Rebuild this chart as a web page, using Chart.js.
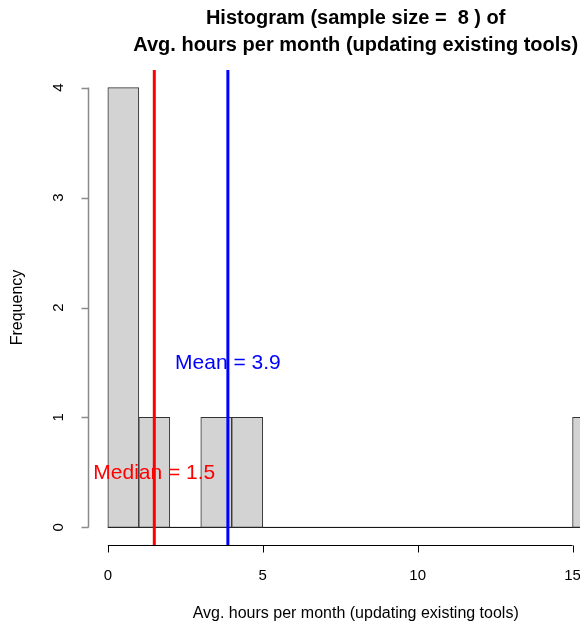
<!DOCTYPE html>
<html>
<head>
<meta charset="utf-8">
<script src="https://cdn.jsdelivr.net/npm/chart.js@4"></script>
<style>
  html, body { margin: 0; padding: 0; background: #fff; }
  #wrap { width: 580px; height: 625px; }
</style>
</head>
<body>
<div id="wrap"><canvas id="histChart" width="580" height="625"></canvas></div>
<script>
// histogram data (bins of width 1)
const binBreaks = [0, 1, 2, 3, 4, 5, 6, 7, 8, 9, 10, 11, 12, 13, 14, 15, 16];
const binCounts = [4, 1, 0, 1, 1, 0, 0, 0, 0, 0, 0, 0, 0, 0, 0, 1];
const xTickValues = [0, 5, 10, 15];
const yTickValues = [0, 1, 2, 3, 4];
const meanValue = 3.875;
const medianValue = 1.5;
const sampleSize = 8;

const titleLines = ['Histogram (sample size =  ' + sampleSize + ' ) of', 'Avg. hours per month (updating existing tools)'];
const xTitle = 'Avg. hours per month (updating existing tools)';
const yTitle = 'Frequency';

const FONT = '"Liberation Sans", Arial, sans-serif';

// R-style 4% axis expansion
const xMinR = -0.64, xMaxR = 16.64;

const barData = [];
binCounts.forEach((c, i) => {
    if (c > 0) barData.push({ x: (binBreaks[i] + binBreaks[i + 1]) / 2, y: c });
});

const rAxesPlugin = {
    id: 'rAxes',
    afterDatasetsDraw(chart) {
        const ctx = chart.ctx;
        const xs = chart.scales.x, ys = chart.scales.y;
        const area = chart.chartArea;

        // mean / median lines
        ctx.save();
        ctx.lineWidth = 3;
        [[medianValue, '#ff0000'], [meanValue, '#0000ff']].forEach(([v, col]) => {
            const px = xs.getPixelForValue(v);
            ctx.strokeStyle = col;
            ctx.beginPath();
            ctx.moveTo(px, area.top);
            ctx.lineTo(px, area.bottom);
            ctx.stroke();
        });

        // labels
        ctx.font = '21px ' + FONT;
        ctx.textAlign = 'center';
        ctx.textBaseline = 'middle';
        ctx.fillStyle = '#ff0000';
        ctx.fillText('Median = ' + medianValue.toFixed(1), xs.getPixelForValue(medianValue), ys.getPixelForValue(0.5) + 1);
        ctx.fillStyle = '#0000ff';
        ctx.fillText('Mean = ' + meanValue.toFixed(1), xs.getPixelForValue(meanValue), ys.getPixelForValue(1.5) + 1);

        // x axis
        ctx.strokeStyle = '#000';
        ctx.lineWidth = 1;
        const axY = Math.round(area.bottom) + 0.5;
        const x0 = xs.getPixelForValue(xTickValues[0]);
        const x1 = xs.getPixelForValue(xTickValues[xTickValues.length - 1]);
        ctx.beginPath();
        ctx.moveTo(x0, axY);
        ctx.lineTo(x1, axY);
        xTickValues.forEach(v => {
            const px = Math.round(xs.getPixelForValue(v)) + 0.5;
            ctx.moveTo(px, axY);
            ctx.lineTo(px, axY + 7);
        });
        ctx.stroke();
        ctx.fillStyle = '#000';
        ctx.font = '15px ' + FONT;
        xTickValues.forEach(v => {
            ctx.fillText(String(v), xs.getPixelForValue(v), axY + 30);
        });

        // y axis
        ctx.strokeStyle = '#8a8a8a';
        ctx.lineWidth = 1.5;
        const axX = Math.round(area.left) + 0.5;
        const y0 = ys.getPixelForValue(yTickValues[0]);
        const y1 = ys.getPixelForValue(yTickValues[yTickValues.length - 1]);
        ctx.beginPath();
        ctx.moveTo(axX, y0);
        ctx.lineTo(axX, y1);
        yTickValues.forEach(v => {
            const py = Math.round(ys.getPixelForValue(v)) + 0.5;
            ctx.moveTo(axX, py);
            ctx.lineTo(axX - 7, py);
        });
        ctx.stroke();
        yTickValues.forEach(v => {
            ctx.save();
            ctx.translate(axX - 30, ys.getPixelForValue(v));
            ctx.rotate(-Math.PI / 2);
            ctx.fillText(String(v), 0, 0);
            ctx.restore();
        });

        // axis titles
        ctx.font = '16px ' + FONT;
        ctx.fillText(xTitle, (xs.getPixelForValue(xMinR) + xs.getPixelForValue(xMaxR)) / 2, axY + 68);
        ctx.save();
        ctx.translate(18, (area.top + area.bottom) / 2);
        ctx.rotate(-Math.PI / 2);
        ctx.fillText(yTitle, 0, 0);
        ctx.restore();

        // main title
        ctx.font = 'bold 20px ' + FONT;
        const cx = (xs.getPixelForValue(xMinR) + xs.getPixelForValue(xMaxR)) / 2;
        ctx.fillText(titleLines[0], cx, 18);
        ctx.fillText(titleLines[1], cx, 45);
        ctx.restore();
    }
};

new Chart(document.getElementById('histChart'), {
    type: 'bar',
    data: {
        datasets: [
            {
                type: 'line',
                data: [{ x: binBreaks[0], y: 0 }, { x: binBreaks[binBreaks.length - 1], y: 0 }],
                borderColor: '#000',
                borderWidth: 1,
                pointRadius: 0,
                order: 2
            },
            {
                data: barData,
                backgroundColor: '#d3d3d3',
                borderColor: '#333',
                borderWidth: 1,
                borderSkipped: false,
                barPercentage: 1,
                categoryPercentage: 1,
                order: 1
            }
        ]
    },
    options: {
        responsive: false,
        animation: false,
        events: [],
        layout: { padding: { left: 88, right: 0, top: 70, bottom: 80 } },
        plugins: { legend: { display: false }, title: { display: false }, tooltip: { enabled: false } },
        scales: {
            x: { type: 'linear', min: xMinR, max: 15.24, display: false, offset: false },
            y: { min: -0.16, max: 4.16, display: false }
        }
    },
    plugins: [rAxesPlugin]
});
</script>
</body>
</html>
